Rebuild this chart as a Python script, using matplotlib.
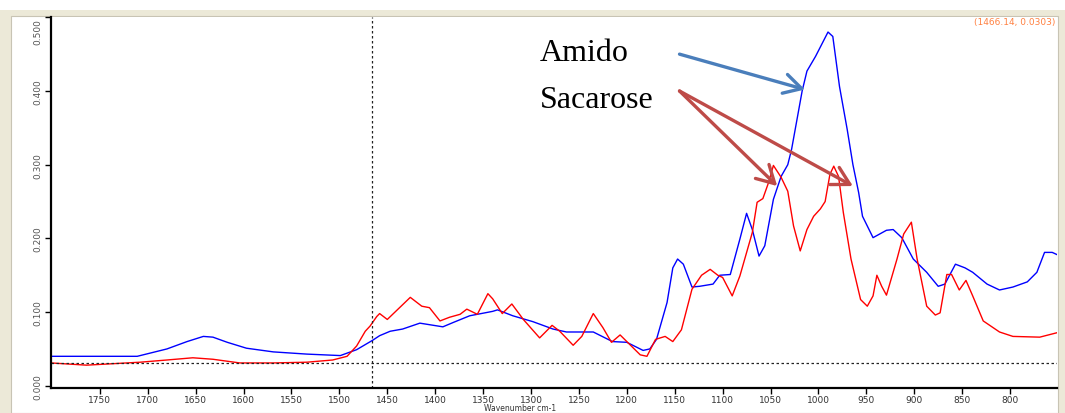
import numpy as np
import matplotlib.pyplot as plt
import matplotlib.transforms as mtransforms
from matplotlib.patches import Rectangle

# spectrum (wavenumber cm-1, absorbance)
amido_wn = [1801, 1760, 1711, 1680, 1659, 1642, 1632, 1617, 1597, 1569, 1534, 1499, 1482,
            1465, 1458, 1447, 1434, 1416, 1392, 1381, 1364, 1340, 1335, 1319, 1298, 1277,
            1263, 1235, 1215, 1200, 1183, 1176, 1169, 1158, 1152, 1147, 1141, 1132, 1124,
            1110, 1103, 1092, 1082, 1075, 1069, 1062, 1056, 1047, 1039, 1032, 1028, 1017,
            1012, 1003, 990, 985, 978, 970, 964, 958, 954, 943, 929, 922, 913, 901, 887,
            875, 868, 857, 847, 839, 824, 811, 797, 782, 772, 764, 756, 751]
amido_abs = [0.040, 0.040, 0.040, 0.050, 0.060, 0.067, 0.066, 0.059, 0.051, 0.046, 0.043, 0.041, 0.049,
             0.062, 0.068, 0.074, 0.077, 0.085, 0.080, 0.086, 0.095, 0.101, 0.103, 0.095, 0.087, 0.077,
             0.073, 0.073, 0.060, 0.059, 0.048, 0.050, 0.063, 0.113, 0.160, 0.172, 0.165, 0.134, 0.135,
             0.138, 0.150, 0.151, 0.199, 0.234, 0.212, 0.176, 0.190, 0.253, 0.284, 0.300, 0.321, 0.400,
             0.427, 0.447, 0.480, 0.474, 0.406, 0.348, 0.300, 0.262, 0.230, 0.201, 0.211, 0.212, 0.201, 0.172, 0.154,
             0.135, 0.138, 0.165, 0.160, 0.154, 0.138, 0.130, 0.134, 0.141, 0.154, 0.181, 0.181, 0.178]

sacarose_wn = [1801, 1764, 1708, 1680, 1653, 1632, 1604, 1569, 1534, 1507, 1492, 1482, 1473,
               1468, 1461, 1458, 1450, 1426, 1414, 1406, 1395, 1385, 1374, 1367, 1356, 1345,
               1340, 1330, 1320, 1308, 1291, 1278, 1270, 1256, 1247, 1235, 1225, 1216, 1207,
               1200, 1186, 1179, 1170, 1160, 1152, 1143, 1132, 1122, 1113, 1105, 1100, 1090,
               1082, 1069, 1064, 1058, 1052, 1047, 1039, 1032, 1026, 1019, 1012, 1005, 998,
               993, 988, 984, 979, 974, 966, 956, 949, 943, 939, 934, 929, 918, 911, 903, 897,
               887, 878, 873, 866, 861, 853, 846, 839, 828, 811, 797, 769, 751]
sacarose_abs = [0.031, 0.028, 0.032, 0.035, 0.038, 0.036, 0.031, 0.031, 0.032, 0.035, 0.040, 0.054, 0.074,
                0.081, 0.094, 0.098, 0.090, 0.120, 0.108, 0.106, 0.088, 0.093, 0.097, 0.104, 0.097, 0.125,
                0.118, 0.098, 0.111, 0.090, 0.065, 0.082, 0.074, 0.055, 0.067, 0.098, 0.079, 0.059, 0.069,
                0.060, 0.042, 0.040, 0.063, 0.067, 0.060, 0.076, 0.131, 0.150, 0.158, 0.150, 0.147, 0.122,
                0.149, 0.208, 0.249, 0.254, 0.276, 0.299, 0.283, 0.264, 0.217, 0.183, 0.212, 0.230, 0.240,
                0.250, 0.287, 0.298, 0.284, 0.235, 0.172, 0.117, 0.108, 0.122, 0.150, 0.135, 0.123, 0.172, 0.206, 0.222, 0.172,
                0.108, 0.096, 0.099, 0.151, 0.151, 0.130, 0.143, 0.122, 0.088, 0.073, 0.067, 0.066, 0.072]

cursor = (1466.14, 0.0303)
x_ticks = list(range(1750, 799, -50))
y_ticks = [0.0, 0.1, 0.2, 0.3, 0.4, 0.5]

fig = plt.figure(figsize=(10.65, 4.14), dpi=100)
W, H = 1065, 414

# window frame (beige border like the software panel)
def px_rect(x0, y0, x1, y1, **kw):
    fig.patches.append(Rectangle((x0 / W, 1 - y1 / H), (x1 - x0) / W, (y1 - y0) / H,
                                 transform=fig.transFigure, figure=fig, zorder=-10, **kw))

px_rect(0, 11, 1065, 414, facecolor='#ece9d8', edgecolor='none')
px_rect(11, 17, 1058, 414, facecolor='white', edgecolor='#c8c4b4', lw=0.8)

ax = fig.add_axes([51 / W, 1 - 389 / H, (1057 - 51) / W, (389 - 18.3) / H])
ax.plot(amido_wn, amido_abs, color='#0000ff', lw=1.0)
ax.plot(sacarose_wn, sacarose_abs, color='#ff0000', lw=1.0)

ax.axvline(cursor[0], color='#222222', lw=0.9, ls=(0, (2, 2)))
ax.axhline(cursor[1], color='#222222', lw=0.9, ls=(0, (2, 2)))

ax.set_xlim(1801, 751)
ax.set_ylim(-0.003, 0.4995)
ax.set_xticks(x_ticks)
ax.set_xticklabels([str(t) for t in x_ticks], fontsize=6.5, color='#333333')
ax.set_yticks(y_ticks)
ax.set_yticklabels(['%.3f' % t for t in y_ticks], fontsize=6.5, color='#555555',
                   rotation=90, va='center')
ax.tick_params(length=4, width=1)
ax.tick_params(axis='x', pad=1)
ax.tick_params(axis='y', pad=2)
# the top label sits inside the frame, as in the software
top_lab = ax.get_yticklabels()[-1]
top_lab.set_transform(top_lab.get_transform() +
                      mtransforms.ScaledTranslation(0, -10 / 72, fig.dpi_scale_trans))
for s in ['top', 'right']:
    ax.spines[s].set_visible(False)
for s in ['left', 'bottom']:
    ax.spines[s].set_linewidth(1.6)

fig.text(520 / W, 1 - 409 / H, 'Wavenumber cm-1', fontsize=5.5, color='#333333',
         ha='center', va='center')
fig.text(1055 / W, 1 - 22 / H, '(%.2f, %.4f)' % cursor, fontsize=6.5, color='#ff8040',
         ha='right', va='center')

serif = 'Liberation Serif'
ax.text(1291, 0.452, 'Amido', fontsize=23, family=serif, va='center', ha='left')
ax.text(1291, 0.389, 'Sacarose', fontsize=23, family=serif, va='center', ha='left')

arrow_kw = dict(arrowstyle='->, head_length=0.9, head_width=0.5', lw=2.4,
                mutation_scale=14, shrinkA=0, shrinkB=0)
ax.annotate('', xy=(1014, 0.402), xytext=(1145, 0.450),
            arrowprops=dict(color='#4a7ebb', **arrow_kw))
ax.annotate('', xy=(1043, 0.271), xytext=(1145, 0.400),
            arrowprops=dict(color='#be4b48', **arrow_kw))
ax.annotate('', xy=(964, 0.271), xytext=(1145, 0.400),
            arrowprops=dict(color='#be4b48', **arrow_kw))

fig.savefig('out.png', dpi=100)
